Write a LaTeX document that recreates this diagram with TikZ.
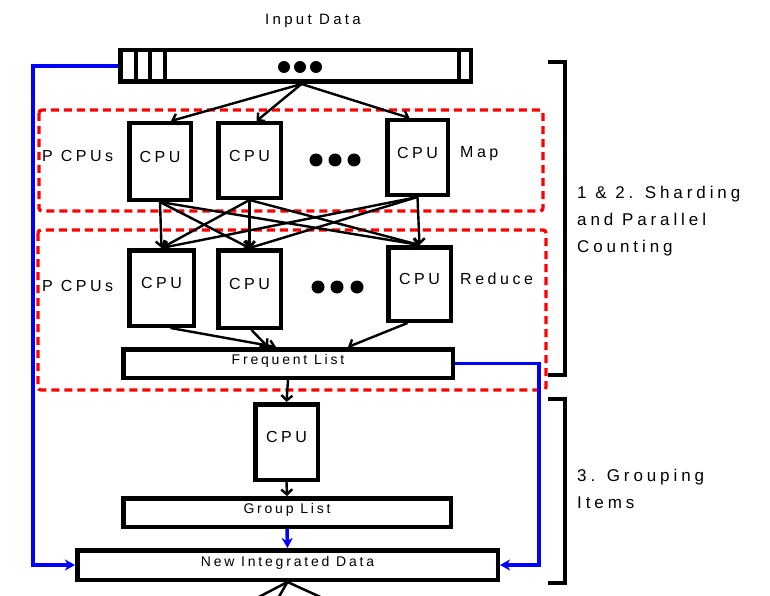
\documentclass[tikz,border=0pt]{standalone}
\usepackage{fontspec}
\setmainfont{Liberation Sans}
\usetikzlibrary{positioning,calc,arrows.meta}

\newcommand{\cpufont}{\fontsize{16}{19}\selectfont\addfontfeature{LetterSpace=22}}
\newcommand{\barfont}{\fontsize{14}{17}\selectfont\addfontfeature{LetterSpace=20}}
\newcommand{\stagefont}{\fontsize{17}{27}\selectfont\addfontfeature{LetterSpace=23}}

\begin{document}
\begin{tikzpicture}[x=1pt,y=-1pt,
  cpu/.style={draw, line width=4.5pt, inner sep=0pt, text depth=10pt, font=\cpufont},
  bar/.style={draw, line width=4.5pt, inner sep=0pt, text depth=8pt, font=\barfont},
  zone/.style={draw=red, line width=3.3pt, dash pattern=on 8pt off 5pt, rounded corners=3pt},
  arr/.style={line width=2.4pt, -{Straight Barb[length=5pt,width=11pt]}},
  blu/.style={draw=blue, line width=3.5pt, -{Stealth[length=10pt,width=11pt,inset=3pt]}},
  lbl/.style={inner sep=0pt, anchor=west, font=\cpufont}]
\useasboundingbox (0,0) rectangle (770,596);

% dashed groups
\draw[zone] (39,110) rectangle (543,211);
\draw[zone] (38,230) rectangle (546,390);

% input
\node[inner sep=0pt, font=\fontsize{15}{18}\selectfont\addfontfeature{LetterSpace=22}] (title) at (313,21) {Input Data};
\node[bar, minimum width=350.5pt, minimum height=31.5pt] (in) at (295.5,66) {};
\foreach \x in {136,150,165,459}
  \draw[line width=3.5pt] (\x,0 |- in.north) -- (\x,0 |- in.south);
\foreach \x in {284,300,316} \fill (\x,67) circle (6);

% map
\node[cpu, minimum width=61.5pt, minimum height=76.5pt] (m1) at (160,161.5) {CPU};
\node[cpu, minimum width=62.5pt, minimum height=74.5pt] (m2) at (249.5,160.5) {CPU};
\node[cpu, minimum width=60.5pt, minimum height=74.5pt] (m3) at (417.5,157.5) {CPU};
\foreach \x in {316,335,354} \fill (\x,160) circle (6.5);
\node[lbl] (pm) at (42,156) {P CPUs};
\node[lbl] (map) at (460,154) {Map};

% reduce
\node[cpu, minimum width=64.5pt, minimum height=75.5pt] (r1) at (161.5,288) {CPU};
\node[cpu, minimum width=62.5pt, minimum height=77.5pt] (r2) at (249.5,289) {CPU};
\node[cpu, minimum width=62.5pt, minimum height=73.5pt] (r3) at (419.5,284) {CPU};
\foreach \x in {318,337,357} \fill (\x,287) circle (6.5);
\node[lbl] (pr) at (42,286) {P CPUs};
\node[lbl] (red) at (460,279) {Reduce};

\node[bar, minimum width=329.5pt, minimum height=28.5pt] (fl) at (288,363.5) {Frequent List};
\node[cpu, minimum width=62.5pt, minimum height=75.5pt] (c) at (286.5,442) {CPU};
\node[bar, minimum width=327.5pt, minimum height=28.5pt] (gl) at (287,512.5) {Group List};
\node[bar, minimum width=420.5pt, minimum height=29.5pt] (nid) at (287.5,565) {New Integrated Data};

% connectors
\draw[arr] ([xshift=6pt]in.south) -- ([xshift=11pt]m1.north);
\draw[arr] ([xshift=6pt]in.south) -- ([xshift=7pt]m2.north);
\draw[arr] ([xshift=6pt]in.south) -- ([xshift=-8pt]m3.north);
\foreach \i in {1,2,3}
  \foreach \j in {1,2,3}
    \draw[arr] (m\i.south) -- (r\j.north);
\draw[arr] ([xshift=9pt]r1.south) -- ([xshift=-12pt]fl.north);
\draw[arr] ([xshift=2pt]r2.south) -- ([xshift=-20pt]fl.north);
\draw[arr] ([xshift=-12pt]r3.south) -- ([xshift=60pt]fl.north);
\draw[arr] (fl.south) -- (c.north);
\draw[arr] (c.south) -- (gl.north);
\draw[blu] (gl.south) -- (nid.north);
\draw[blu] (in.west) -- ++(-85,0) |- (nid.west);
\draw[blu] (fl.east) -- ++(84,0) |- (nid.east);
\coordinate (o1) at (253,600);
\coordinate (o2) at (277,600);
\coordinate (o3) at (327,600);
\foreach \o in {o1,o2,o3} \draw[line width=2.5pt] (nid.south) -- (\o);

% stages
\draw[line width=4pt] (548,62) -| (565,375) -- (548,375);
\draw[line width=4pt] (548,399) -| (565,583) -- (548,583);
\node[inner sep=0pt, anchor=north west, align=left, font=\stagefont] (s12) at (577,186) {1 \& 2. Sharding\\and Parallel\\Counting};
\node[inner sep=0pt, anchor=north west, align=left, font=\stagefont] (s3) at (577,469) {3. Grouping\\Items};
\end{tikzpicture}
\end{document}
